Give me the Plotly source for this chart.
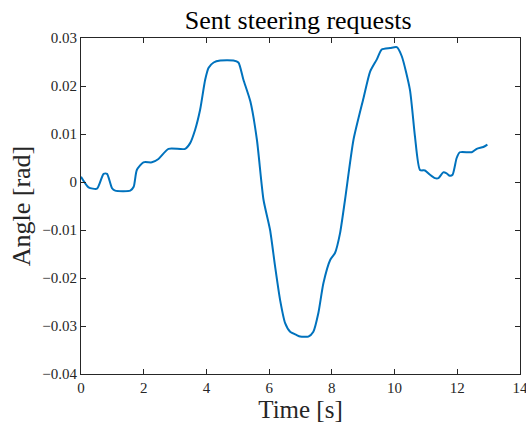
import plotly.graph_objects as go

time_s = [0.00, 0.24, 0.51, 0.72, 0.83, 0.99, 1.09, 1.57, 1.68, 1.78, 1.99, 2.26, 2.47, 2.79,
          3.32, 3.48, 3.64, 3.80, 3.96, 4.07, 4.23, 4.44, 4.86, 5.02, 5.18, 5.40, 5.61,
          5.82, 6.03, 6.19, 6.35, 6.51, 6.67, 6.88, 6.99, 7.25, 7.41, 7.57, 7.73, 7.95,
          8.10, 8.26, 8.42, 8.69, 9.01, 9.22, 9.43, 9.59, 9.86, 10.07, 10.23, 10.49,
          10.65, 10.81, 10.97, 11.13, 11.29, 11.40, 11.55, 11.66, 11.76, 11.85, 11.98,
          12.08, 12.46, 12.62, 12.83, 12.96]
angle_rad = [0.0011, -0.0011, -0.0014, 0.0017, 0.0017, -0.0013, -0.0018, -0.0018, -0.0010,
             0.0025, 0.0041, 0.0041, 0.0048, 0.0069, 0.0069, 0.0081, 0.0109, 0.0151,
             0.0213, 0.0238, 0.0249, 0.0253, 0.0253, 0.0249, 0.0213, 0.0168, 0.0088,
             -0.0037, -0.0100, -0.0176, -0.0246, -0.0294, -0.0312, -0.0319, -0.0322,
             -0.0322, -0.0312, -0.0273, -0.0211, -0.0162, -0.0148, -0.0107, -0.0037,
             0.0088, 0.0175, 0.0230, 0.0255, 0.0276, 0.0279, 0.0281, 0.0262, 0.0192,
             0.0095, 0.0025, 0.0024, 0.0015, 0.0008, 0.0008, 0.0020, 0.0018, 0.0013,
             0.0015, 0.0050, 0.0062, 0.0062, 0.0069, 0.0073, 0.0078]

x_ticks = [0, 2, 4, 6, 8, 10, 12, 14]
x_ticklabels = ["0", "2", "4", "6", "8", "10", "12", "14"]
y_ticks = [-0.04, -0.03, -0.02, -0.01, 0, 0.01, 0.02, 0.03]
y_ticklabels = ["\u22120.04", "\u22120.03", "\u22120.02", "\u22120.01", "0", "0.01", "0.02", "0.03"]

FONT = "Liberation Serif, DejaVu Serif, serif"
AX = "#262626"

fig = go.Figure()
fig.add_trace(go.Scatter(x=time_s, y=angle_rad, mode="lines",
                         line=dict(color="#0072BD", width=2, shape="spline", smoothing=0.6),
                         showlegend=False))

axis_common = dict(showgrid=False, zeroline=False, showline=True, linecolor=AX, linewidth=1,
                   mirror="ticks", ticks="inside", ticklen=5, tickcolor=AX, tickwidth=1,
                   ticklabeloverflow="allow", automargin=False,
                   tickfont=dict(family=FONT, size=15, color=AX))

fig.update_layout(
    width=526, height=428,
    margin=dict(l=81, r=6, t=38, b=54),
    paper_bgcolor="white", plot_bgcolor="white",
    title=dict(text="Sent steering requests", x=0.567, xanchor="center", y=0.953, yanchor="middle",
               font=dict(family=FONT, size=26, color="black")),
    xaxis=dict(range=[0, 14], tickmode="array", tickvals=x_ticks, ticktext=x_ticklabels,
               title=dict(text="Time [s]", font=dict(family=FONT, size=25, color=AX), standoff=2),
               **axis_common),
    yaxis=dict(range=[-0.04, 0.03], tickmode="array", tickvals=y_ticks, ticktext=y_ticklabels,
               title=dict(text="Angle [rad]", font=dict(family=FONT, size=26, color=AX), standoff=4),
               **axis_common),
)

fig.write_html("out.html")
